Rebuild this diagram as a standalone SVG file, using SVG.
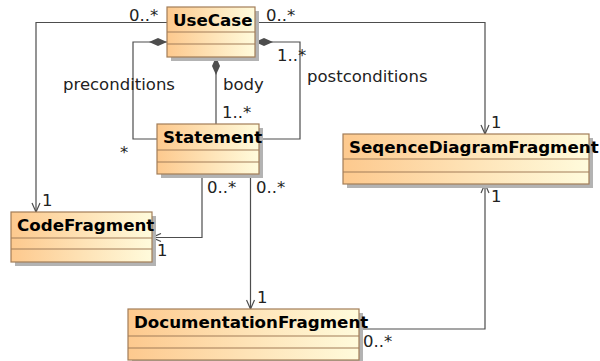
<svg xmlns="http://www.w3.org/2000/svg" width="600" height="361" viewBox="0 0 600 361">
  <defs>
    <linearGradient id="classFill" x1="0" y1="0" x2="1" y2="0">
      <stop offset="0" stop-color="#fdc98e"/>
      <stop offset="1" stop-color="#fffbdc"/>
    </linearGradient>
    <marker id="open" viewBox="0 0 10 10" refX="10" refY="5" markerWidth="10" markerHeight="10" markerUnits="userSpaceOnUse" orient="auto">
      <path d="M1,1 L10,5 L1,9" fill="none" stroke="#4d4d4d" stroke-width="1.2"/>
    </marker>
    <marker id="diamond" viewBox="0 0 18 8" refX="0" refY="4" markerWidth="18" markerHeight="8" markerUnits="userSpaceOnUse" orient="auto">
      <path d="M0,4 L9,0 L18,4 L9,8 Z" fill="#4d4d4d"/>
    </marker>
  </defs>
  <style>
    .shadow { fill: #b3b3b3; }
    .box { fill: url(#classFill); stroke: #a27d58; stroke-width: 1.2; }
    .sep { stroke: #a27d58; stroke-width: 1.2; }
    .name { font-family: "DejaVu Sans", sans-serif; font-weight: bold; font-size: 16.7px; fill: #000; }
    .lbl { font-family: "DejaVu Sans", sans-serif; font-size: 16.5px; fill: #222; }
    .edge { fill: none; stroke: #4d4d4d; stroke-width: 1.2; }
  </style>
  <rect width="600" height="361" fill="#fff"/>

  <!-- associations -->
  <g id="connectors">
    <path class="edge" d="M167,22.5 H36 V212" marker-end="url(#open)"/>
    <path class="edge" d="M255,22.5 H485 V134" marker-end="url(#open)"/>
    <path class="edge" d="M167,42 H133 V139 H157" marker-start="url(#diamond)"/>
    <path class="edge" d="M255,42 H300 V139 H259" marker-start="url(#diamond)"/>
    <path class="edge" d="M216,57 V124" marker-start="url(#diamond)"/>
    <path class="edge" d="M202,174 V237.5 H152" marker-end="url(#open)"/>
    <path class="edge" d="M250.5,174 V309" marker-end="url(#open)"/>
    <path class="edge" d="M359,329 H485 V184" marker-end="url(#open)"/>
  </g>

  <g id="labels">
    <text class="lbl" x="129" y="21">0..*</text>
    <text class="lbl" x="266" y="21">0..*</text>
    <text class="lbl" x="63" y="90">preconditions</text>
    <text class="lbl" x="223" y="90">body</text>
    <text class="lbl" x="222" y="118">1..*</text>
    <text class="lbl" x="277" y="61">1..*</text>
    <text class="lbl" x="307" y="82">postconditions</text>
    <text class="lbl" x="120" y="158">*</text>
    <text class="lbl" x="491" y="128">1</text>
    <text class="lbl" x="42" y="206">1</text>
    <text class="lbl" x="207" y="193">0..*</text>
    <text class="lbl" x="256" y="193">0..*</text>
    <text class="lbl" x="157" y="256">1</text>
    <text class="lbl" x="257" y="303">1</text>
    <text class="lbl" x="491" y="202">1</text>
    <text class="lbl" x="363" y="347">0..*</text>
  </g>

  <g id="UseCase">
    <rect class="shadow" x="171" y="11" width="88" height="50"/>
    <rect class="box" x="167" y="7" width="88" height="50"/>
    <line class="sep" x1="167" y1="32" x2="255" y2="32"/>
    <line class="sep" x1="167" y1="44" x2="255" y2="44"/>
    <text class="name" x="173" y="26">UseCase</text>
  </g>

  <g id="Statement">
    <rect class="shadow" x="161" y="128" width="102" height="50"/>
    <rect class="box" x="157" y="124" width="102" height="50"/>
    <line class="sep" x1="157" y1="150" x2="259" y2="150"/>
    <line class="sep" x1="157" y1="162" x2="259" y2="162"/>
    <text class="name" x="163" y="143">Statement</text>
  </g>

  <g id="SeqenceDiagramFragment">
    <rect class="shadow" x="347" y="138" width="246" height="50"/>
    <rect class="box" x="343" y="134" width="246" height="50"/>
    <line class="sep" x1="343" y1="159" x2="589" y2="159"/>
    <line class="sep" x1="343" y1="172" x2="589" y2="172"/>
    <text class="name" x="349" y="153">SeqenceDiagramFragment</text>
  </g>

  <g id="CodeFragment">
    <rect class="shadow" x="15" y="216" width="141" height="50"/>
    <rect class="box" x="11" y="212" width="141" height="50"/>
    <line class="sep" x1="11" y1="238" x2="152" y2="238"/>
    <line class="sep" x1="11" y1="249" x2="152" y2="249"/>
    <text class="name" x="17" y="231">CodeFragment</text>
  </g>

  <g id="DocumentationFragment">
    <rect class="shadow" x="132" y="313" width="231" height="51"/>
    <rect class="box" x="128" y="309" width="231" height="51"/>
    <line class="sep" x1="128" y1="336" x2="359" y2="336"/>
    <line class="sep" x1="128" y1="348" x2="359" y2="348"/>
    <text class="name" x="134" y="328">DocumentationFragment</text>
  </g>
</svg>
